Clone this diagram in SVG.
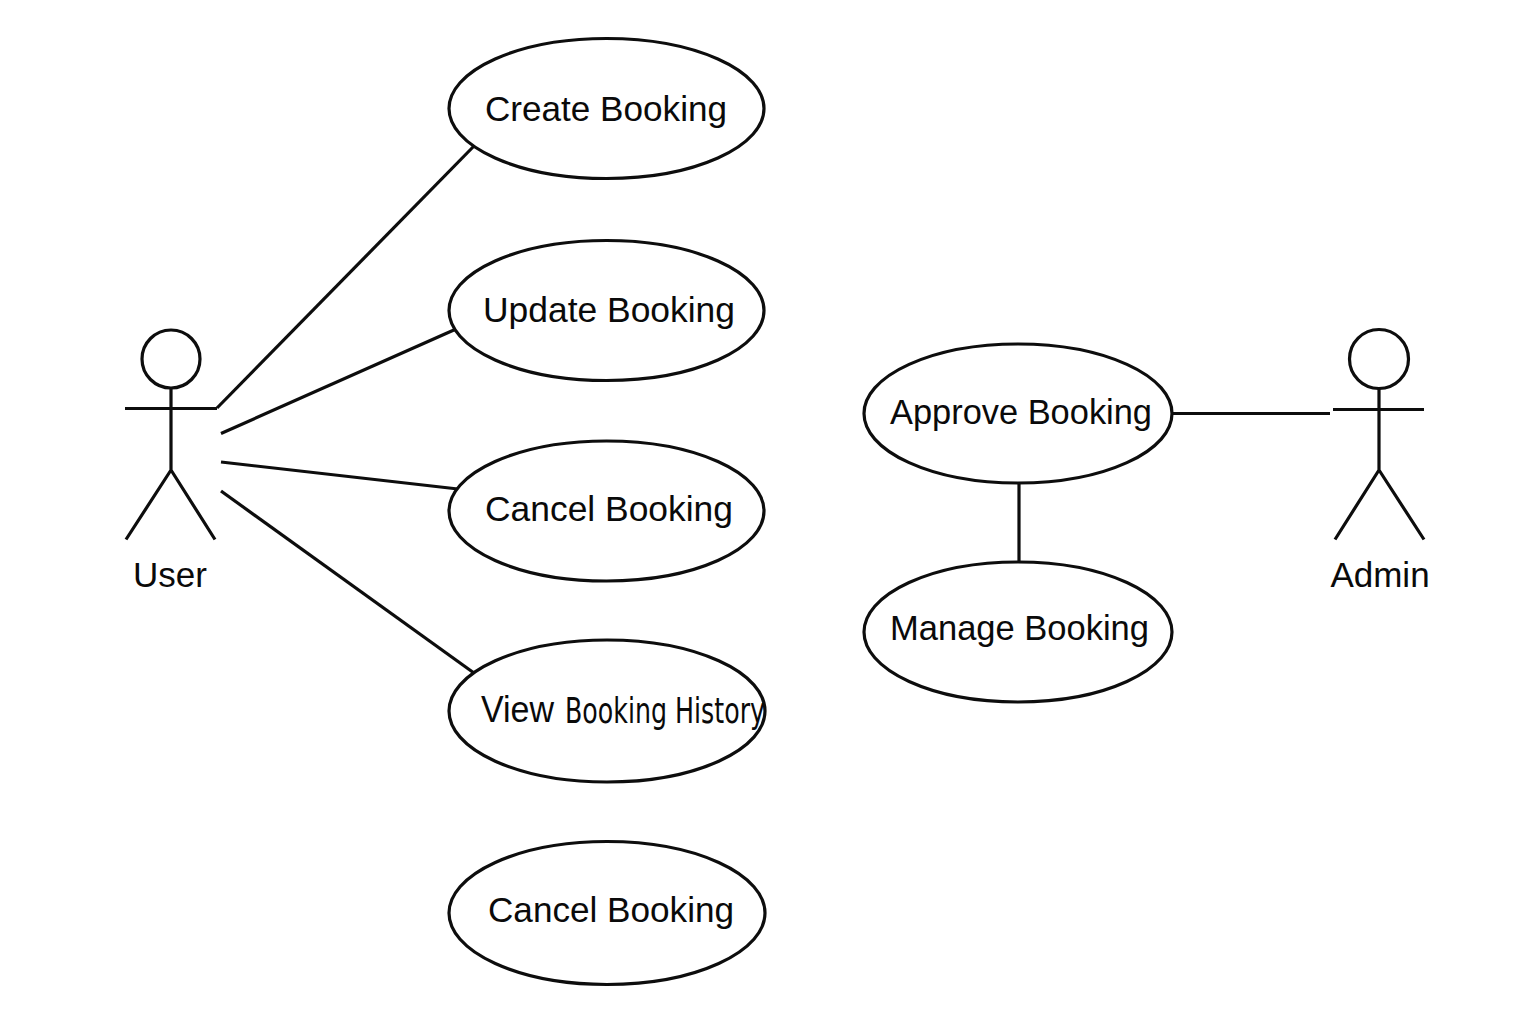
<svg xmlns="http://www.w3.org/2000/svg" width="1536" height="1024" viewBox="0 0 1536 1024">
<style>
.s{fill:none;stroke:#0d0d0d;stroke-width:3.200;stroke-linecap:butt}
.e{fill:#fff;stroke:#0d0d0d;stroke-width:3.200}
.t{font-family:"Liberation Sans",Arial,sans-serif;font-size:35px;fill:#0a0a0a}
</style>
<rect width="1536" height="1024" fill="#fff"/>
<g id="connectors" class="s">
<path d="M217 408L474 146"/>
<path d="M221 433.500L455 329.500"/>
<path d="M221 462L458 489"/>
<path d="M221 491L474 673"/>
<path d="M1173 413.500H1330"/>
<path d="M1019 483V562"/>
</g>
<g id="actor-user"><circle class="s" cx="171" cy="359" r="29"/><path class="s" d="M125 408.500H217M171 388V470M171 470L126 539.500M171 470L215 539.500"/><text class="t" x="170" y="587" text-anchor="middle">User</text></g>
<g id="actor-admin"><circle class="s" cx="1379" cy="359" r="29.500"/><path class="s" d="M1333 409.500H1424M1379 389V470M1379 470L1335 539.500M1379 470L1424 539.500"/><text class="t" x="1380" y="587" text-anchor="middle">Admin</text></g>
<g id="uc-create"><ellipse class="e" cx="606.500" cy="108.500" rx="157.500" ry="70"/><text class="t" x="485" y="121" textLength="242" lengthAdjust="spacingAndGlyphs">Create Booking</text></g>
<g id="uc-update"><ellipse class="e" cx="606.500" cy="310.500" rx="157.500" ry="70"/><text class="t" x="483" y="322" textLength="252" lengthAdjust="spacingAndGlyphs">Update Booking</text></g>
<g id="uc-cancel1"><ellipse class="e" cx="606.500" cy="511" rx="157.500" ry="70"/><text class="t" x="485" y="521" textLength="248" lengthAdjust="spacingAndGlyphs">Cancel Booking</text></g>
<g id="uc-view"><ellipse class="e" cx="607" cy="711" rx="158" ry="71"/><text class="t" y="722"><tspan x="481" textLength="73" lengthAdjust="spacingAndGlyphs" font-size="37">View</tspan> <tspan x="565" y="723" textLength="200" lengthAdjust="spacingAndGlyphs" style="font-family:'DejaVu Sans',sans-serif" font-size="35.500">Booking History</tspan></text></g>
<g id="uc-cancel2"><ellipse class="e" cx="607" cy="913" rx="158" ry="71.500"/><text class="t" x="488" y="922" textLength="246" lengthAdjust="spacingAndGlyphs">Cancel Booking</text></g>
<g id="uc-approve"><ellipse class="e" cx="1018" cy="413.500" rx="154" ry="69.500"/><text class="t" x="890" y="424" textLength="262" lengthAdjust="spacingAndGlyphs">Approve Booking</text></g>
<g id="uc-manage"><ellipse class="e" cx="1018" cy="632" rx="154" ry="70"/><text class="t" x="890" y="640" textLength="259" lengthAdjust="spacingAndGlyphs">Manage Booking</text></g>
</svg>
